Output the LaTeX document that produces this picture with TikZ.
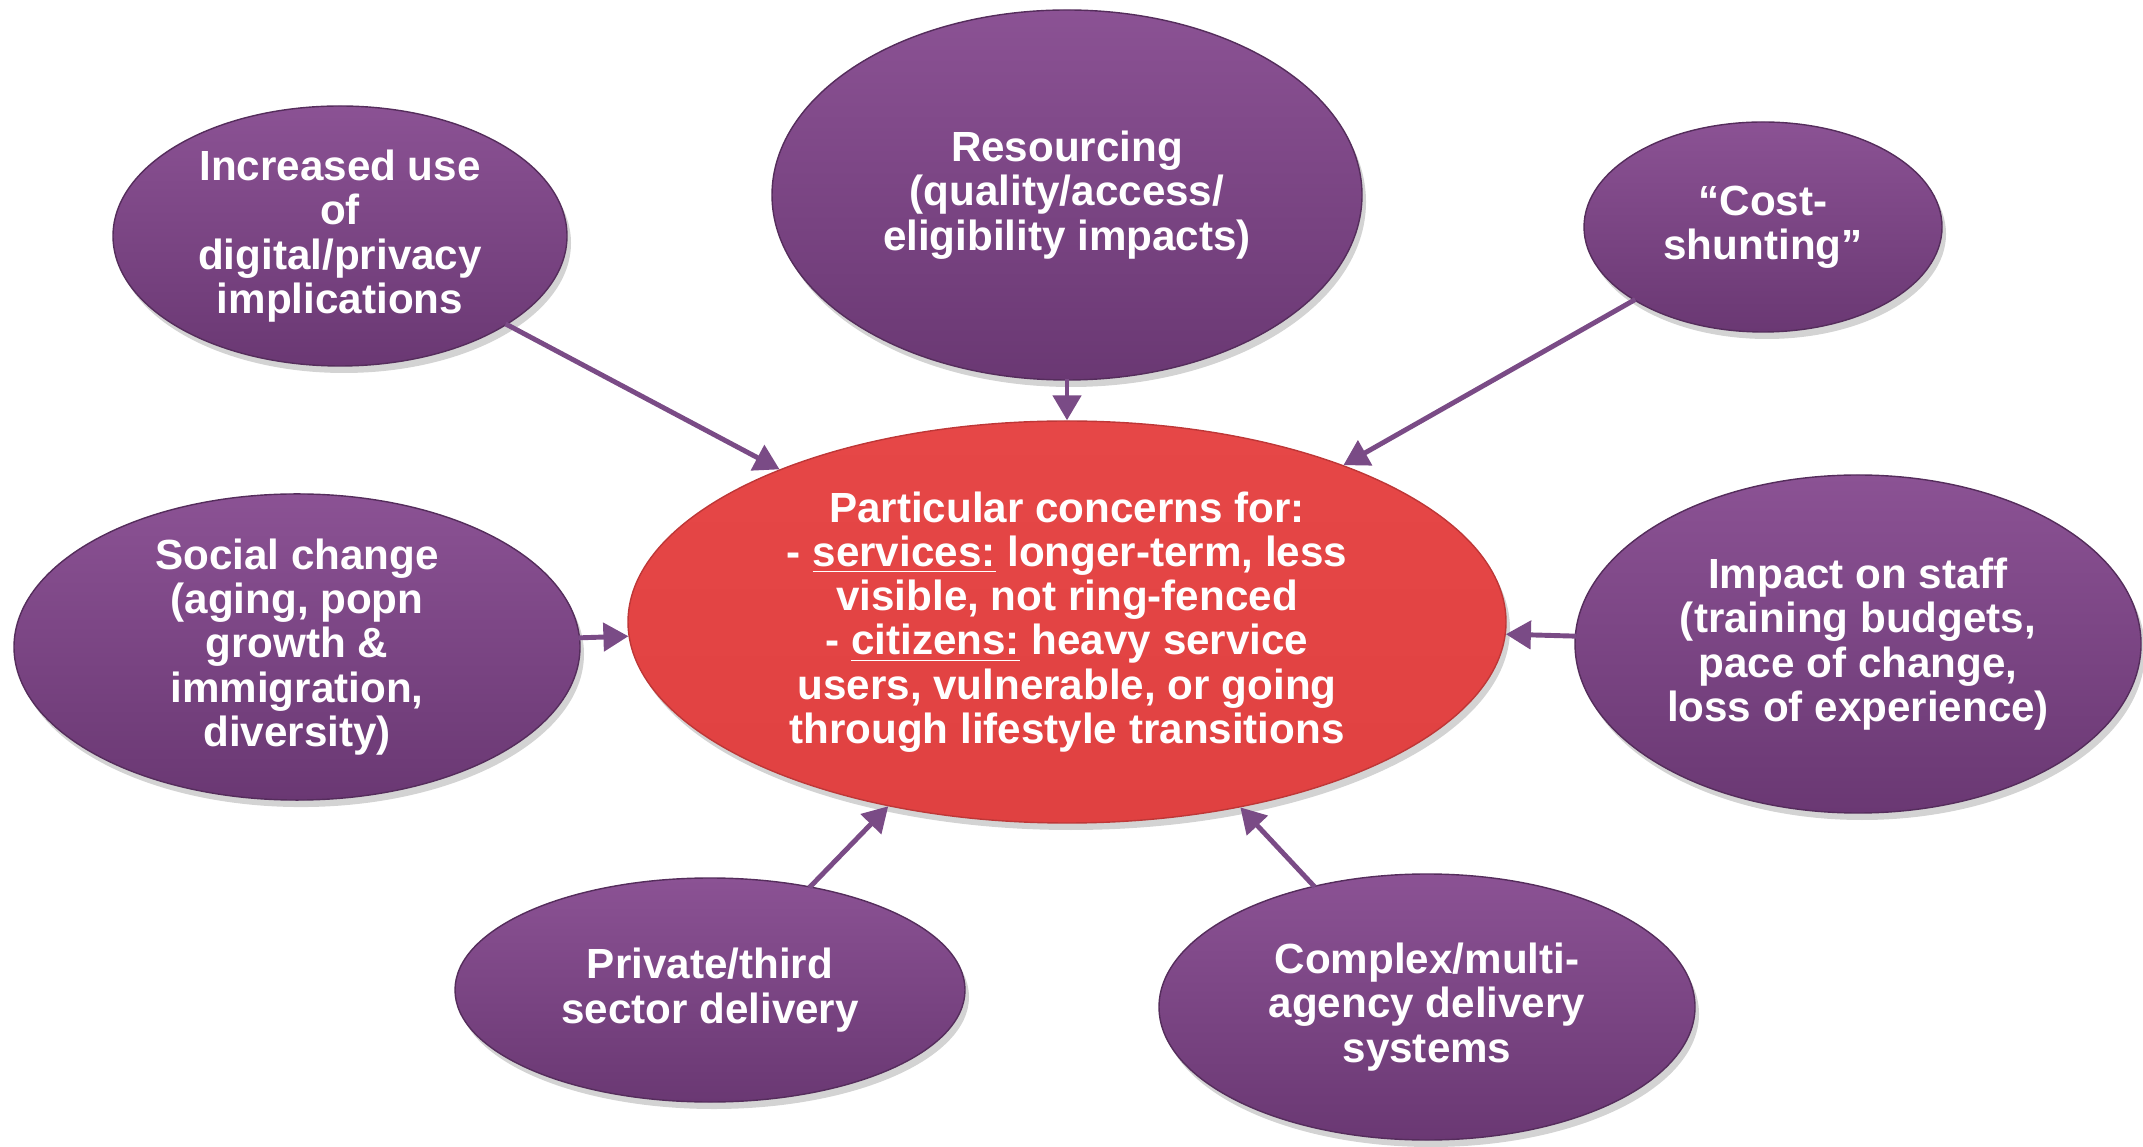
\documentclass[tikz,border=0pt]{standalone}
\usepackage{fontspec}
\setmainfont{Liberation Sans}
\usepackage{xcolor}
\usepackage{tikz}
\usetikzlibrary{arrows.meta,shapes.geometric,shadows}
\definecolor{plum}{HTML}{7A4584}
\definecolor{plumtop}{HTML}{8B5294}
\definecolor{plumbot}{HTML}{6A3873}
\definecolor{redtop}{HTML}{E64747}
\definecolor{redbot}{HTML}{E04141}
\definecolor{arrowplum}{HTML}{7A4B86}
\tikzset{
topic/.style={ellipse,inner sep=0pt,top color=plumtop,bottom color=plumbot,
  draw=plumbot!80!black,line width=0.4pt,text=white,align=center,
  font=\bfseries\fontsize{12}{12.6}\selectfont,
  drop shadow={opacity=0.35,shadow xshift=0.04cm,shadow yshift=-0.07cm}},
concern/.style={topic,top color=redtop,bottom color=redbot,draw=redbot!85!black},
feed/.style={draw=arrowplum,line width=1.4pt,-{Triangle[length=0.25cm,width=0.28cm]},shorten <=-0.5pt}
}
\begin{document}
\begin{tikzpicture}
\useasboundingbox (0,0) rectangle (21.43,11.46);
% centre
\node[concern,minimum width=8.78cm,minimum height=4.02cm] (core) at (10.67,5.24)
  {Particular concerns for:\\- \underline{services:} longer-term, less\\visible, not ring-fenced\\- \underline{citizens:} heavy service\\users, vulnerable, or going\\through lifestyle transitions};
% surrounding topics
\node[topic,minimum width=4.54cm,minimum height=2.60cm] (digital) at (3.40,9.10)
  {Increased use\\of\\digital/privacy\\implications};
\node[topic,minimum width=5.90cm,minimum height=3.70cm] (resourcing) at (10.67,9.51)
  {Resourcing\\(quality/access/\\eligibility impacts)};
\node[topic,minimum width=3.58cm,minimum height=2.10cm] (shunting) at (17.63,9.19)
  {“Cost-\\shunting”};
\node[topic,minimum width=5.66cm,minimum height=3.06cm] (social) at (2.97,4.99)
  {Social change\\(aging, popn\\growth \&\\immigration,\\diversity)};
\node[topic,minimum width=5.66cm,minimum height=3.38cm] (staff) at (18.58,5.02)
  {Impact on staff\\(training budgets,\\pace of change,\\loss of experience)};
\node[topic,minimum width=5.10cm,minimum height=2.24cm] (private) at (7.10,1.56)
  {Private/third\\sector delivery};
\node[topic,minimum width=5.36cm,minimum height=2.66cm] (agency) at (14.27,1.39)
  {Complex/multi-\\agency delivery\\systems};
% arrows into the centre
\foreach \src in {digital,resourcing,shunting,social,staff,private,agency}
  \draw[feed] (\src) -- (core);
\end{tikzpicture}
\end{document}
